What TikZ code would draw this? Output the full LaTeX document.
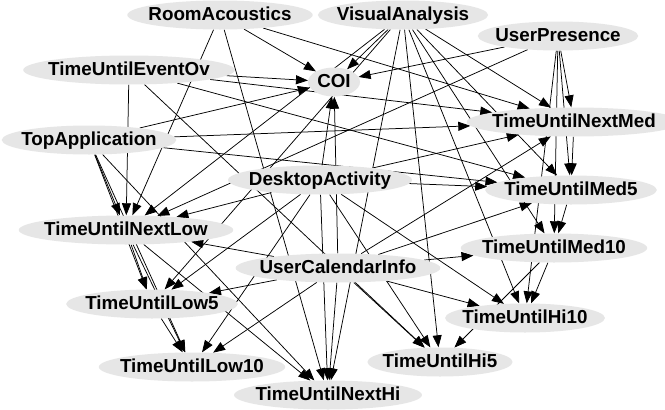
\documentclass[tikz,border=0pt]{standalone}
\usepackage{fontspec}
\setmainfont{Liberation Sans}
\usetikzlibrary{shapes.geometric,arrows.meta,backgrounds}
\definecolor{nodegray}{RGB}{230,230,230}
\tikzset{
  % variable of the network
  var/.style={ellipse,fill=nodegray,draw=none,inner xsep=-6pt,inner ysep=0pt,minimum width=52pt,minimum height=29pt,text height=13.5pt,text depth=3pt,font=\bfseries\fontsize{18.8}{22}\selectfont},
  % dependency
  dep/.style={-{Triangle[length=12pt,width=9pt]},line width=0.75pt},
}

\begin{document}
\begin{tikzpicture}[x=1pt,y=-1pt]
  \useasboundingbox (0,0) rectangle (665,410);
  % top row
  \node[var] (ra) at (220,15) {RoomAcoustics};
  \node[var] (va) at (403,15) {VisualAnalysis};
  \node[var] (up) at (558,36) {UserPresence};
  \node[var] (eo) at (129,70) {TimeUntilEventOv};
  \node[var] (coi) at (334,82) {COI};
  \node[var] (nmed) at (574,122) {TimeUntilNextMed};
  \node[var] (ta) at (89,140) {TopApplication};
  \node[var] (da) at (320,180) {DesktopActivity};
  \node[var] (med5) at (571,190) {TimeUntilMed5};
  \node[var] (nlow) at (126,230) {TimeUntilNextLow};
  \node[var] (med10) at (554,248) {TimeUntilMed10};
  \node[var] (uc) at (338,268) {UserCalendarInfo};
  \node[var] (low5) at (152,304) {TimeUntilLow5};
  \node[var] (hi10) at (525,318) {TimeUntilHi10};
  \node[var] (hi5) at (440,362) {TimeUntilHi5};
  \node[var] (low10) at (192,367) {TimeUntilLow10};
  \node[var] (nhi) at (328,395) {TimeUntilNextHi};
  \begin{pgfonlayer}{background}
  \fill[white] (0,0) rectangle (665,410);
  %%%%%%%%%%%%%%%%%%%%%%%%%%%%%%%%%%%%%%%
  \draw[dep] (ra) -- (coi);
  \draw[dep] (eo) -- (coi);
  \draw[dep] (ta) -- (coi);
  \draw[dep] (va) -- (coi);
  \draw[dep] (up) -- (coi);
  \draw[dep] (da) -- (coi);
  \draw[dep] (uc) -- (coi);
  %%%%%%%%%%%%%%%%%%%%%%%%%%%%%%%%%%%%%%%
  \draw[dep] (ra) -- (nmed);
  \draw[dep] (eo) -- (nmed);
  \draw[dep] (ta) -- (nmed);
  \draw[dep] (va) -- (nmed);
  \draw[dep] (up) -- (nmed);
  \draw[dep] (da) -- (nmed);
  \draw[dep] (uc) -- (nmed);
  %%%%%%%%%%%%%%%%%%%%%%%%%%%%%%%%%%%%%%%
  \draw[dep] (eo) -- (med5);
  \draw[dep] (ta) -- (med5);
  \draw[dep] (va) -- (med5);
  \draw[dep] (up) -- (med5);
  \draw[dep] (da) -- (med5);
  \draw[dep] (uc) -- (med5);
  \draw[dep] (nmed) -- (med5);
  %%%%%%%%%%%%%%%%%%%%%%%%%%%%%%%%%%%%%%%
  \draw[dep] (va) -- (med10);
  \draw[dep] (up) -- (med10);
  \draw[dep] (med5) -- (med10);
  \draw[dep] (uc) -- (med10);
  %%%%%%%%%%%%%%%%%%%%%%%%%%%%%%%%%%%%%%%
  \draw[dep] (va) -- (hi10);
  \draw[dep] (da) -- (hi10);
  \draw[dep] (uc) -- (hi10);
  \draw[dep] (up) -- (hi10);
  \draw[dep] (med10) -- (hi10);
  %%%%%%%%%%%%%%%%%%%%%%%%%%%%%%%%%%%%%%%
  \draw[dep] (va) -- (hi5);
  \draw[dep] (da) -- (hi5);
  \draw[dep] (uc) -- (hi5);
  \draw[dep] (eo) -- (hi5);
  \draw[dep] (med10) -- (hi5);
  %%%%%%%%%%%%%%%%%%%%%%%%%%%%%%%%%%%%%%%
  \draw[dep] (ra) -- (nhi);
  \draw[dep] (va) -- (nhi);
  \draw[dep] (da) -- (nhi);
  \draw[dep] (uc) -- (nhi);
  \draw[dep] (nlow) -- (nhi);
  \draw[dep] (ta) -- (nhi);
  %%%%%%%%%%%%%%%%%%%%%%%%%%%%%%%%%%%%%%%
  \draw[dep] (ta) -- (nlow);
  \draw[dep] (eo) -- (nlow);
  \draw[dep] (ra) -- (nlow);
  \draw[dep] (va) -- (nlow);
  \draw[dep] (up) -- (nlow);
  \draw[dep] (da) -- (nlow);
  \draw[dep] (uc) -- (nlow);
  %%%%%%%%%%%%%%%%%%%%%%%%%%%%%%%%%%%%%%%
  \draw[dep] (nlow) -- (low5);
  \draw[dep] (da) -- (low5);
  \draw[dep] (uc) -- (low5);
  \draw[dep] (ta) -- (low5);
  \draw[dep] (va) -- (low5);
  %%%%%%%%%%%%%%%%%%%%%%%%%%%%%%%%%%%%%%%
  \draw[dep] (low5) -- (low10);
  \draw[dep] (nlow) -- (low10);
  \draw[dep] (da) -- (low10);
  \draw[dep] (uc) -- (low10);
  \draw[dep] (ta) -- (low10);
  \end{pgfonlayer}
\end{tikzpicture}
\end{document}
